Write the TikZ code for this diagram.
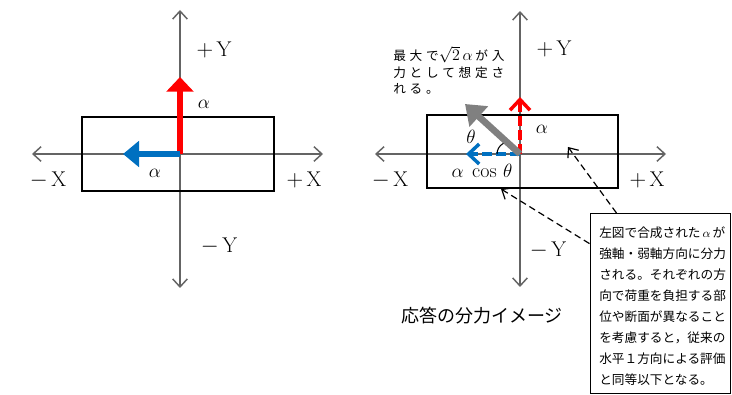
\documentclass[tikz,border=0pt]{standalone}
\usepackage{fontspec}
\newfontfamily\jp{Noto Sans CJK JP}
\newfontfamily\jpsp[LetterSpace=30]{Noto Sans CJK JP}
\usetikzlibrary{arrows.meta}
\definecolor{axisgray}{RGB}{100,100,100}
\definecolor{vecgray}{RGB}{128,128,128}
\definecolor{vecblue}{RGB}{0,112,192}
\definecolor{vecred}{RGB}{255,0,0}
\tikzset{
  axis/.style={draw=axisgray, line width=1.1pt, {Straight Barb[length=6pt,width=11pt]}-{Straight Barb[length=6pt,width=11pt]}},
  section/.style={draw=black, line width=1.1pt},
  axlabel/.style={inner sep=0pt, font=\fontsize{16}{18}\selectfont},
  greek/.style={inner sep=0pt, font=\fontsize{15}{17}\selectfont},
  solidred/.style={draw=vecred, line width=4.3pt, -{Triangle[length=11pt,width=20pt]}},
  solidblue/.style={draw=vecblue, line width=4.3pt, -{Triangle[length=12pt,width=19pt]}},
  solidgray/.style={draw=vecgray, line width=5pt, -{Triangle[length=14pt,width=20pt]}},
  dashred/.style={draw=vecred, line width=2.6pt, dash pattern=on 7.5pt off 3pt, -{Straight Barb[length=8pt,width=15pt]}},
  dashblue/.style={draw=vecblue, line width=2.6pt, dash pattern=on 7.5pt off 3pt, -{Straight Barb[length=8pt,width=15pt]}},
  pointer/.style={draw=black, line width=0.9pt, dash pattern=on 5pt off 3pt, -{Straight Barb[length=6pt,width=10pt]}},
}
\begin{document}
\begin{tikzpicture}[x=0.75pt, y=-0.75pt]
\useasboundingbox (0,0) rectangle (732,395);
% ---------- left diagram ----------
\coordinate (lo) at (180,154);
\coordinate (lyt) at (180,10);
\coordinate (lyb) at (180,288);
\coordinate (lxl) at (32,154);
\coordinate (lxr) at (323,154);
\coordinate (lredtip) at (180,77);
\coordinate (lbluetip) at (123,154);
\draw[axis] (lyb) -- (lyt);
\draw[axis] (lxl) -- (lxr);
\node[section, minimum width=192*0.75pt, minimum height=74*0.75pt, inner sep=0pt] (lrect) at (178,154) {};
\draw[solidred] (lo) -- (lredtip);
\draw[solidblue] (lo) -- (lbluetip);
\node[axlabel] (lpy) at (214,50) {$+$\,Y};
\node[axlabel] (lmy) at (219,246) {$-$\,Y};
\node[axlabel] (lmx) at (48,180) {$-$\,X};
\node[axlabel] (lpx) at (304,180) {$+$\,X};
\node[greek] (la1) at (204,104) {$\alpha$};
\node[greek] (la2) at (155,173) {$\alpha$};
% ---------- right diagram ----------
\coordinate (ro) at (520,154);
\coordinate (ryt) at (520,11);
\coordinate (ryb) at (520,287);
\coordinate (rxl) at (375,154);
\coordinate (rxr) at (666,154);
\coordinate (rgraytip) at (465,104);
\coordinate (rredtip) at (520,97);
\coordinate (rbluetip) at (466,154);
\draw[axis] (ryb) -- (ryt);
\draw[axis] (rxl) -- (rxr);
\node[section, minimum width=191*0.75pt, minimum height=73*0.75pt, inner sep=0pt] (rrect) at (522.5,151.5) {};
\draw[dashred] (ro) -- (rredtip);
\draw[dashblue] (ro) -- (rbluetip);
\draw[black, line width=0.8pt] (497,154) arc[start angle=180, end angle=85, radius=12*0.75pt];
\draw[solidgray] (ro) -- (rgraytip);
\node[axlabel] (rpy) at (554,49) {$+$\,Y};
\node[axlabel] (rmy) at (548,250) {$-$\,Y};
\node[axlabel] (rmx) at (390,180) {$-$\,X};
\node[axlabel] (rpx) at (647,180) {$+$\,X};
\node[greek] (ra) at (542,129) {$\alpha$};
\node[greek] (rth) at (471,137) {$\theta$};
\node[greek] (racos) at (482,171) {$\alpha\;\cos\,\theta$};
\node[inner sep=0pt, anchor=north west, align=left, font=\fontsize{9.5}{12.4}\selectfont\jpsp] (note) at (393,46)
  {最大で{\large$\sqrt{2}\,\alpha\,$}が入\\力として想定さ\\れる。};
\node[inner sep=0pt, font=\fontsize{13.5}{16}\selectfont\jp] (title) at (482,316) {応答の分力イメージ};
\node[draw=black, line width=0.9pt, anchor=north west, minimum width=140*0.75pt, minimum height=180*0.75pt, inner sep=0pt] (box) at (589.5,213) {};
\node[inner sep=0pt, anchor=north west, align=left, font=\fontsize{9.5}{15.7}\selectfont\jp] (boxtext) at (599,227)
  {左図で合成された\,$\alpha$\,が\\強軸・弱軸方向に分力\\される。それぞれの方\\向で荷重を負担する部\\位や断面が異なること\\を考慮すると，従来の\\水平１方向による評価\\と同等以下となる。};
\coordinate (pa) at (568,147);
\coordinate (pb) at (501,189);
\draw[pointer] (box.north west) ++(27,0) coordinate (ps1) (ps1) -- (pa);
\draw[pointer] (box.west) ++(0,-60) coordinate (ps2) (ps2) -- (pb);
\end{tikzpicture}
\end{document}
